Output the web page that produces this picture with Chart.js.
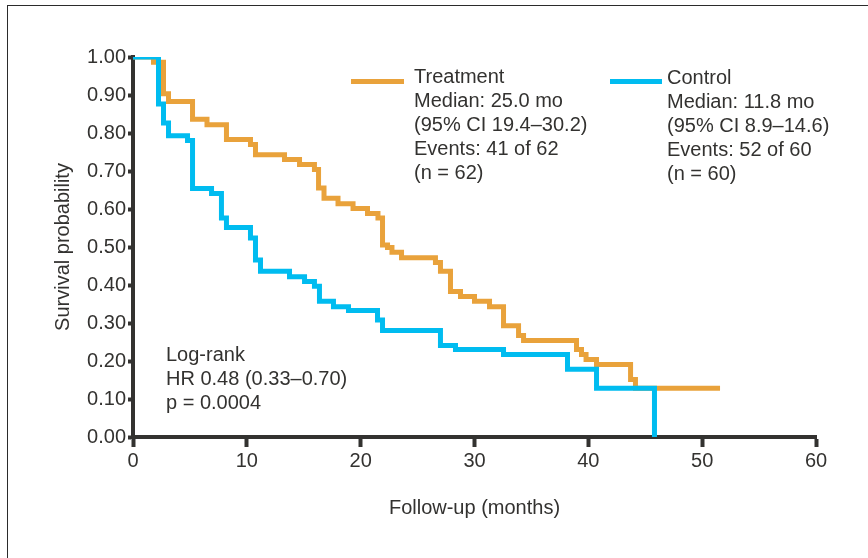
<!DOCTYPE html>
<html>
<head>
<meta charset="utf-8">
<script src="https://cdn.jsdelivr.net/npm/chart.js@4"></script>
<style>
  html, body { margin: 0; padding: 0; background: #fff; }
  #wrap { position: relative; width: 868px; height: 558px; overflow: hidden; }
  #frame { position: absolute; left: 7px; top: 5px; width: 1000px; height: 1000px;
           border-left: 1.5px solid #2b2b2b; border-top: 1.5px solid #2b2b2b; }
  #kmChart { position: absolute; left: 0; top: 0; }
</style>
</head>
<body>
<div id="wrap">
  <div id="frame"></div>
  <canvas id="kmChart" width="868" height="558"></canvas>
</div>
<script>
// Kaplan-Meier steps (time in months, survival probability)
const orangeTime = [0, 1.80, 2.68, 3.12, 5.23, 6.50, 8.21, 10.32, 10.76, 13.31, 14.63, 15.94, 16.30, 16.78, 18.01, 19.33, 20.60, 21.52, 21.92, 22.36, 22.75, 23.59, 26.57, 27.01, 27.89, 28.77, 30.00, 31.32, 32.55, 33.87, 34.31, 38.96, 39.40, 39.80, 40.72, 43.71, 44.14, 51.57];
const orangeSurv = [1, 0.986, 0.903, 0.883, 0.836, 0.822, 0.783, 0.770, 0.743, 0.730, 0.717, 0.704, 0.655, 0.628, 0.614, 0.601, 0.588, 0.576, 0.505, 0.499, 0.486, 0.472, 0.459, 0.436, 0.383, 0.370, 0.357, 0.343, 0.293, 0.267, 0.254, 0.230, 0.217, 0.204, 0.191, 0.151, 0.128, 0.128];

const blueTime = [0, 2.24, 2.68, 3.12, 4.79, 5.23, 6.90, 7.77, 8.21, 10.32, 10.76, 11.20, 13.75, 15.07, 15.94, 16.38, 17.61, 18.93, 21.48, 21.92, 27.01, 28.33, 32.55, 38.17, 40.72, 45.81];
const blueSurv = [1, 0.876, 0.826, 0.793, 0.780, 0.654, 0.641, 0.576, 0.551, 0.524, 0.466, 0.436, 0.422, 0.409, 0.397, 0.357, 0.343, 0.333, 0.308, 0.280, 0.241, 0.230, 0.217, 0.178, 0.128, 0];

const xTicks = [0, 10, 20, 30, 40, 50, 60];
const yTicks = [0, 0.1, 0.2, 0.3, 0.4, 0.5, 0.6, 0.7, 0.8, 0.9, 1.0];

const orangeLegend = ['Treatment', 'Median: 25.0 mo', '(95% CI 19.4–30.2)', 'Events: 41 of 62', '(n = 62)'];
const blueLegend = ['Control', 'Median: 11.8 mo', '(95% CI 8.9–14.6)', 'Events: 52 of 60', '(n = 60)'];
const statsText = ['Log-rank', 'HR 0.48 (0.33–0.70)', 'p = 0.0004'];

const ORANGE = '#E9A23B';
const BLUE = '#00BCF0';
const INK = '#333230';
const FONT = '"Liberation Sans", Arial, sans-serif';

const toPoints = (t, s) => t.map((v, i) => ({ x: v, y: s[i] }));

// legend + stats text drawn on top
const notesPlugin = {
    id: 'notes',
    afterDraw: (chart) => {
        const ctx = chart.ctx;
        ctx.save();
        ctx.font = '20px ' + FONT;
        ctx.fillStyle = INK;
        ctx.textBaseline = 'middle';
        ctx.textAlign = 'left';

        ctx.lineWidth = 5;
        ctx.strokeStyle = ORANGE;
        ctx.beginPath(); ctx.moveTo(351, 81.5); ctx.lineTo(404, 81.5); ctx.stroke();
        orangeLegend.forEach((line, i) => ctx.fillText(line, 414, 77 + i * 24));

        ctx.strokeStyle = BLUE;
        ctx.beginPath(); ctx.moveTo(610, 81.5); ctx.lineTo(662, 81.5); ctx.stroke();
        blueLegend.forEach((line, i) => ctx.fillText(line, 667, 78 + i * 24));

        statsText.forEach((line, i) => ctx.fillText(line, 166, 355 + i * 24));
        ctx.restore();
    }
};

new Chart(document.getElementById('kmChart'), {
    type: 'line',
    data: {
        datasets: [
            {
                label: 'Control',
                data: toPoints(blueTime, blueSurv),
                borderColor: BLUE,
                borderWidth: 5,
                stepped: 'before',
                pointRadius: 0,
                fill: false,
                borderJoinStyle: 'miter'
            },
            {
                label: 'Treatment',
                data: toPoints(orangeTime, orangeSurv),
                borderColor: ORANGE,
                borderWidth: 5,
                stepped: 'before',
                pointRadius: 0,
                fill: false,
                borderJoinStyle: 'miter'
            }
        ]
    },
    options: {
        responsive: false,
        animation: false,
        layout: { padding: { top: 57, right: 52, left: 0, bottom: 0 } },
        plugins: {
            legend: { display: false },
            tooltip: { enabled: false }
        },
        scales: {
            x: {
                type: 'linear',
                min: xTicks[0],
                max: xTicks[xTicks.length - 1],
                afterFit: (scale) => { scale.height = 121; },
                afterBuildTicks: (scale) => { scale.ticks = xTicks.map(v => ({ value: v })); },
                border: { display: true, color: INK, width: 4 },
                grid: { drawOnChartArea: false, drawTicks: true, tickLength: 10, tickWidth: 4, tickColor: INK },
                ticks: { color: INK, font: { family: FONT, size: 20 }, padding: 2, maxRotation: 0 },
                title: { display: true, text: 'Follow-up (months)', color: INK,
                         font: { family: FONT, size: 20 }, padding: { top: 0, bottom: 38 } }
            },
            y: {
                min: 0,
                max: 1,
                afterFit: (scale) => { scale.width = 133; },
                afterBuildTicks: (scale) => { scale.ticks = yTicks.map(v => ({ value: v })); },
                border: { display: true, color: INK, width: 4 },
                grid: { drawOnChartArea: false, drawTicks: true, tickLength: 5, tickWidth: 4, tickColor: INK },
                ticks: { color: INK, font: { family: FONT, size: 20 }, padding: 2,
                         callback: (v) => v.toFixed(2) },
                title: { display: true, text: 'Survival probability', color: INK,
                         font: { family: FONT, size: 20 }, padding: { top: 51, bottom: 0 } }
            }
        }
    },
    plugins: [notesPlugin]
});
</script>
</body>
</html>
